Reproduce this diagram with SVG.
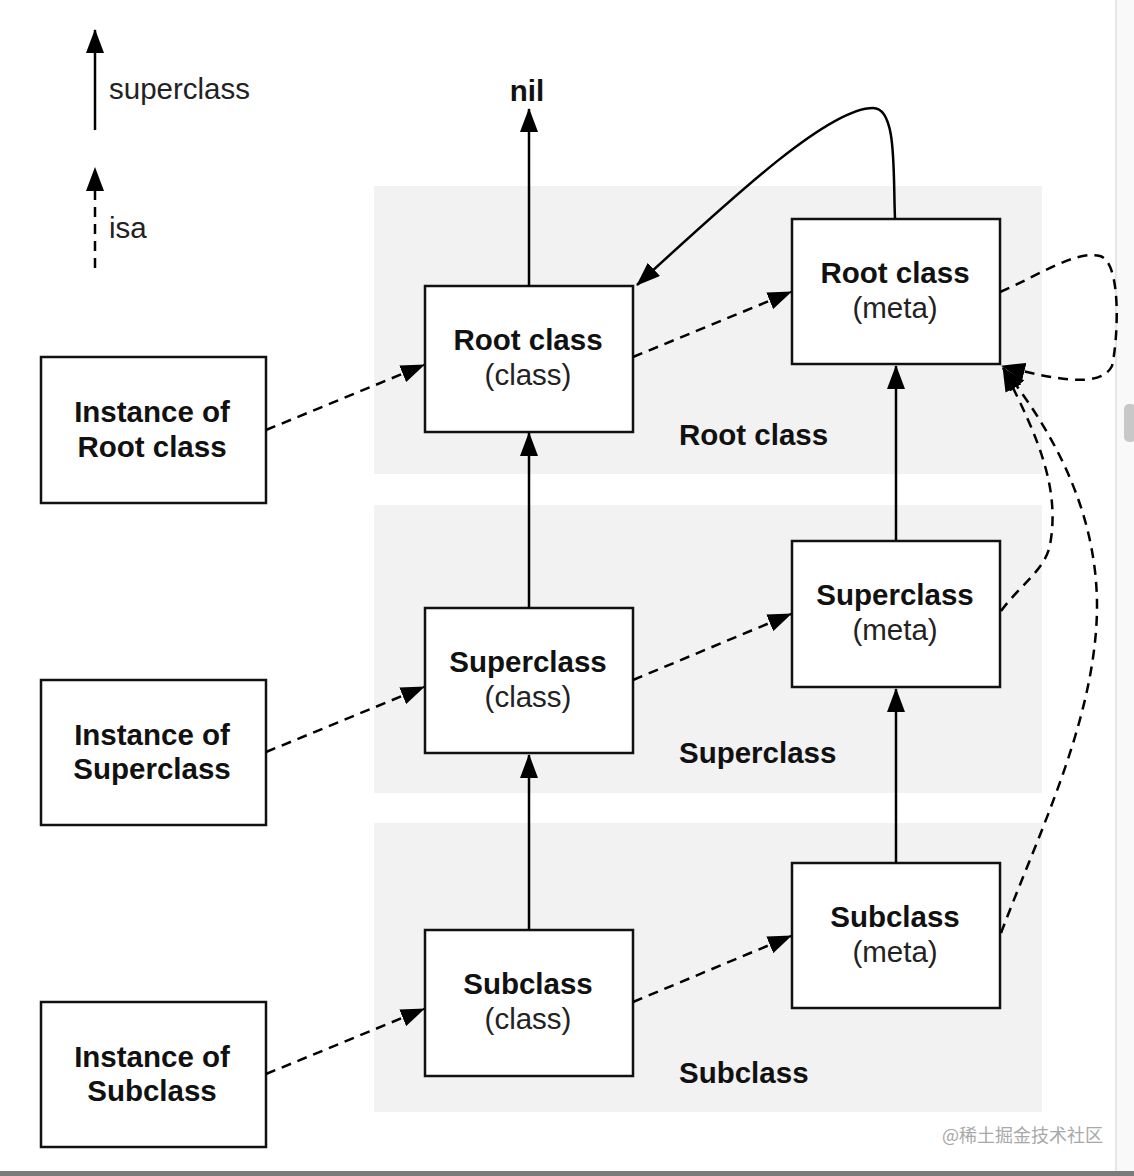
<svg xmlns="http://www.w3.org/2000/svg" width="1134" height="1176" viewBox="0 0 1134 1176">
<defs>
<marker id="ah" viewBox="0 0 24 18" refX="23" refY="9" markerWidth="24" markerHeight="18" markerUnits="userSpaceOnUse" orient="auto">
<path d="M0,0 L24,9 L0,18 z" fill="#000"/>
</marker>
<style>
.band{fill:#f2f2f2}
.box{fill:#fff;stroke:#111;stroke-width:2.5}
.b{font-family:"Liberation Sans",Arial,sans-serif;font-size:29.5px;font-weight:bold;fill:#111}
.r{font-family:"Liberation Sans",Arial,sans-serif;font-size:29.5px;fill:#222}
.sup{fill:none;stroke:#000;stroke-width:2.5;marker-end:url(#ah)}
.isa{fill:none;stroke:#000;stroke-width:2.5;stroke-dasharray:10 7;marker-end:url(#ah)}
</style>
</defs>
<rect width="1134" height="1176" fill="#fff"/>
<rect x="1116" y="0" width="18" height="1172" fill="#f9f9f9"/>
<rect x="1115" y="0" width="2" height="1172" fill="#e6e6e6"/>
<rect x="1124" y="404" width="12" height="38" rx="5" fill="#c8c8c8"/>
<rect x="0" y="1171" width="1134" height="5" fill="#7a7a7a"/>

<g id="bands">
<rect class="band" x="374" y="186" width="668" height="288"/>
<rect class="band" x="374" y="505" width="668" height="288"/>
<rect class="band" x="374" y="823" width="668" height="289"/>
</g>

<g id="legend">
<line class="sup" x1="95" y1="130" x2="95" y2="30"/>
<text class="r" x="109" y="99">superclass</text>
<line class="isa" x1="95" y1="268" x2="95" y2="168"/>
<text class="r" x="109" y="238">isa</text>
</g>

<g id="labels">
<text class="b" x="527" y="101" text-anchor="middle">nil</text>
<text class="b" x="679" y="445">Root class</text>
<text class="b" x="679" y="763">Superclass</text>
<text class="b" x="679" y="1083">Subclass</text>
</g>

<g id="inst-root"><rect class="box" x="41" y="357" width="225" height="146"/>
<text class="b" x="152" y="422" text-anchor="middle">Instance of</text>
<text class="b" x="152" y="457" text-anchor="middle">Root class</text></g>
<g id="inst-super"><rect class="box" x="41" y="680" width="225" height="145"/>
<text class="b" x="152" y="745" text-anchor="middle">Instance of</text>
<text class="b" x="152" y="779" text-anchor="middle">Superclass</text></g>
<g id="inst-sub"><rect class="box" x="41" y="1002" width="225" height="145"/>
<text class="b" x="152" y="1067" text-anchor="middle">Instance of</text>
<text class="b" x="152" y="1101" text-anchor="middle">Subclass</text></g>

<g id="class-root"><rect class="box" x="425" y="286" width="208" height="146"/>
<text class="b" x="528" y="350" text-anchor="middle">Root class</text>
<text class="r" x="528" y="385" text-anchor="middle">(class)</text></g>
<g id="class-super"><rect class="box" x="425" y="608" width="208" height="145"/>
<text class="b" x="528" y="672" text-anchor="middle">Superclass</text>
<text class="r" x="528" y="707" text-anchor="middle">(class)</text></g>
<g id="class-sub"><rect class="box" x="425" y="930" width="208" height="146"/>
<text class="b" x="528" y="994" text-anchor="middle">Subclass</text>
<text class="r" x="528" y="1029" text-anchor="middle">(class)</text></g>

<g id="meta-root"><rect class="box" x="792" y="219" width="208" height="145"/>
<text class="b" x="895" y="283" text-anchor="middle">Root class</text>
<text class="r" x="895" y="318" text-anchor="middle">(meta)</text></g>
<g id="meta-super"><rect class="box" x="792" y="541" width="208" height="146"/>
<text class="b" x="895" y="605" text-anchor="middle">Superclass</text>
<text class="r" x="895" y="640" text-anchor="middle">(meta)</text></g>
<g id="meta-sub"><rect class="box" x="792" y="863" width="208" height="145"/>
<text class="b" x="895" y="927" text-anchor="middle">Subclass</text>
<text class="r" x="895" y="962" text-anchor="middle">(meta)</text></g>

<g id="connectors">
<line class="sup" x1="529" y1="286" x2="529" y2="109"/>
<line class="sup" x1="529" y1="608" x2="529" y2="433"/>
<line class="sup" x1="529" y1="930" x2="529" y2="755"/>
<line class="sup" x1="896" y1="541" x2="896" y2="366"/>
<line class="sup" x1="896" y1="863" x2="896" y2="689"/>
<path class="sup" d="M895,219 C893,170 897,108 873,108 C830,108 740,190 637,285"/>

<line class="isa" x1="266" y1="430" x2="424" y2="365"/>
<line class="isa" x1="266" y1="752" x2="424" y2="687"/>
<line class="isa" x1="266" y1="1074" x2="424" y2="1009"/>
<line class="isa" x1="633" y1="357" x2="791" y2="292"/>
<line class="isa" x1="633" y1="680" x2="791" y2="614"/>
<line class="isa" x1="633" y1="1002" x2="791" y2="936"/>

<path class="isa" d="M1000,292 C1040,275 1075,250 1100,256 C1122,262 1118,340 1112,366 C1100,390 1050,378 1002,366"/>
<path class="isa" d="M1001,611 C1020,585 1045,570 1050,545 C1060,490 1040,440 1003,368"/>
<path class="isa" d="M1001,933 C1040,830 1095,720 1097,610 C1098,520 1060,440 1003,368"/>
</g>

<text x="1103" y="1142" text-anchor="end" font-family="'Noto Sans CJK SC',sans-serif" font-size="18" fill="#a8a8a8">@稀土掘金技术社区</text>
</svg>
